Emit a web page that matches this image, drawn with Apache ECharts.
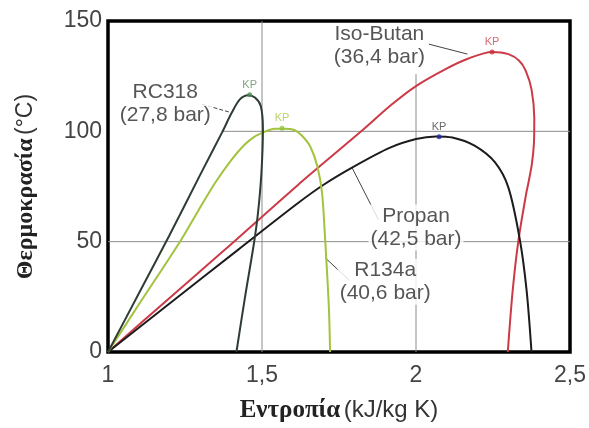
<!DOCTYPE html>
<html>
<head>
<meta charset="utf-8">
<script src="https://cdn.jsdelivr.net/npm/echarts@6/dist/echarts.min.js"></script>
<style>html,body{margin:0;padding:0;background:#fff}#c{width:589px;height:428px}</style>
</head>
<body>
<div id="c"></div>
<script>
// ---- data (entropy s in kJ/kg K, temperature T in °C) ----
var xTicks = [1, 1.5, 2, 2.5];
var yTicks = [0, 50, 100, 150];

var rc318S = [1.0, 1.1, 1.2, 1.3, 1.37, 1.402, 1.428, 1.455, 1.477, 1.496, 1.503, 1.498, 1.487, 1.474, 1.445, 1.417];
var rc318T = [0, 26.5, 53, 80.5, 99.4, 108.5, 114.5, 116.4, 115.3, 111.5, 101, 81, 63, 49.4, 25, 0];

var r134aS = [1.0, 1.1, 1.231, 1.295, 1.348, 1.402, 1.444, 1.476, 1.503, 1.54, 1.572, 1.605, 1.63, 1.657, 1.68, 1.695, 1.705, 1.717, 1.721];
var r134aT = [0, 21.5, 49.4, 64.5, 76.7, 87.3, 94, 97.6, 99.4, 101.2, 101.2, 100.6, 98, 93, 84, 72, 51, 20.5, 0];

var isoS = [1.0, 1.2, 1.38, 1.615, 1.822, 1.92, 2.0, 2.096, 2.17, 2.247, 2.30, 2.335, 2.356, 2.375, 2.384, 2.383, 2.376, 2.364, 2.358, 2.333, 2.314, 2.298];
var isoT = [0, 24.5, 46.4, 75.5, 100, 112, 120.5, 128.2, 133, 136, 135, 132, 127.5, 119, 106, 95, 85, 76, 72, 51, 28, 0];

var propS = [1.0, 1.2, 1.423, 1.615, 1.70, 1.798, 1.914, 2.0, 2.064, 2.118, 2.19, 2.256, 2.30, 2.337, 2.359, 2.375];
var propT = [0, 22, 46.4, 67.3, 75.8, 84, 92.5, 96.5, 97.7, 97.2, 93.5, 86, 74.5, 51, 28, 0];

// critical points (KP)
var kpS = [1.46, 1.565, 2.247, 2.075];
var kpT = [116.6, 101.4, 136, 97.6];

// annotation labels (text anchor positions in data units)
var labelText = ['RC318\n(27,8 bar)', 'Iso-Butan\n(36,4 bar)', 'Propan\n(42,5 bar)', 'R134a\n(40,6 bar)'];
var labelS = [1.186, 1.881, 2.0, 1.90];
var labelT = [112.7, 138.6, 56.4, 31.8];

// leader lines [s1, T1, s2, T2]
var leaderRC318 = [1.305, 112.3, 1.397, 108.6];
var leaderIso = [2.042, 139.5, 2.167, 135];
var leaderProp = [1.792, 83.6, 1.878, 60];
var leaderR134a = [1.705, 42.7, 1.782, 32.7];

// reference grid lines [s1, T1, s2, T2]
var gridLines = [
  [1.5, 0, 1.5, 150],
  [2.0, 0, 2.0, 126],
  [1.0, 50, 2.5, 50],
  [1.369, 100, 2.5, 100]
];

function zip(a, b) { return a.map(function (v, i) { return [v, b[i]]; }); }
function seg(p) { return [[p[0], p[1]], [p[2], p[3]]]; }

var colors = { rc318: '#2e3d33', r134a: '#a3c23e', iso: '#cc3a48', prop: '#1c1c1c' };
var kpColors = ['#4f8a55', '#8cc43a', '#c8323c', '#1f2aa0'];
var kpLabelColors = ['#5f8f65', '#a8c84a', '#c84a50', '#444'];

var series = [];
gridLines.forEach(function (g) {
  series.push({ type: 'line', data: seg(g), symbol: 'none', silent: true, z: 1,
    lineStyle: { color: '#8c8c8c', width: 1 }, animation: false });
});
function curve(name, s, t, c) {
  return { name: name, type: 'line', data: zip(s, t), symbol: 'none', smooth: 0.3, z: 3,
    lineStyle: { color: c, width: 2 }, animation: false };
}
series.push(curve('Iso-Butan', isoS, isoT, colors.iso));
series.push(curve('Propan', propS, propT, colors.prop));
series.push(curve('R134a', r134aS, r134aT, colors.r134a));
series.push(curve('RC318', rc318S, rc318T, colors.rc318));

[[leaderRC318, 'dashed'], [leaderIso, 'solid'], [leaderProp, 'solid'], [leaderR134a, 'solid']].forEach(function (l) {
  series.push({ type: 'line', data: seg(l[0]), symbol: 'none', silent: true, z: 2,
    lineStyle: { color: '#444', width: 1, type: l[1] }, animation: false });
});

series.push({
  type: 'scatter', z: 6, symbolSize: 0, animation: false,
  data: labelS.map(function (s, i) { return { value: [s, labelT[i]], name: labelText[i] }; }),
  label: { show: true, position: 'inside', formatter: function (p) { return p.name; },
    fontFamily: 'Liberation Sans, Arial, sans-serif', fontSize: 21, lineHeight: 23, color: '#2a2a2a',
    backgroundColor: '#fff', padding: [0, 2], align: 'center' }
});

series.push({
  type: 'scatter', z: 7, symbolSize: 5, animation: false,
  data: kpS.map(function (s, i) {
    return { value: [s, kpT[i]], itemStyle: { color: kpColors[i] },
      label: { color: kpLabelColors[i] } };
  }),
  label: { show: true, position: 'top', distance: 2, formatter: 'KP',
    fontFamily: 'Liberation Sans, Arial, sans-serif', fontSize: 11 }
});

var chart = echarts.init(document.getElementById('c'), null, { renderer: 'canvas' });
chart.setOption({
  backgroundColor: '#fff',
  animation: false,
  grid: { left: 108, right: 12, top: 21, bottom: 76, show: true, borderColor: '#000', borderWidth: 3.5, backgroundColor: 'transparent' },
  xAxis: {
    type: 'value', min: xTicks[0], max: xTicks[xTicks.length - 1], interval: xTicks[1] - xTicks[0],
    axisLine: { show: false }, axisTick: { show: false }, splitLine: { show: false },
    axisLabel: { fontFamily: 'Liberation Sans, Arial, sans-serif', fontSize: 23, color: '#444', margin: 12,
      formatter: function (v) { return String(v).replace('.', ','); } },
    name: '{b|Εντροπία} {n|(kJ/kg K)}', nameLocation: 'middle', nameGap: 46,
    nameTextStyle: { rich: {
      b: { fontFamily: 'Liberation Serif, DejaVu Serif, serif', fontWeight: 'bold', fontSize: 25, color: '#222' },
      n: { fontFamily: 'Liberation Sans, Arial, sans-serif', fontSize: 24, color: '#333' } } }
  },
  yAxis: {
    type: 'value', min: yTicks[0], max: yTicks[yTicks.length - 1], interval: yTicks[1] - yTicks[0],
    axisLine: { show: false }, axisTick: { show: false }, splitLine: { show: false },
    axisLabel: { fontFamily: 'Liberation Sans, Arial, sans-serif', fontSize: 23, color: '#444', margin: 6 },
    name: '{b|Θερμοκρασία} {n|(°C)}', nameLocation: 'middle', nameGap: 70,
    nameTextStyle: { rich: {
      b: { fontFamily: 'Liberation Serif, DejaVu Serif, serif', fontWeight: 'bold', fontSize: 24, color: '#222' },
      n: { fontFamily: 'Liberation Sans, Arial, sans-serif', fontSize: 23, color: '#333' } } }
  },
  series: series
});
</script>
</body>
</html>
